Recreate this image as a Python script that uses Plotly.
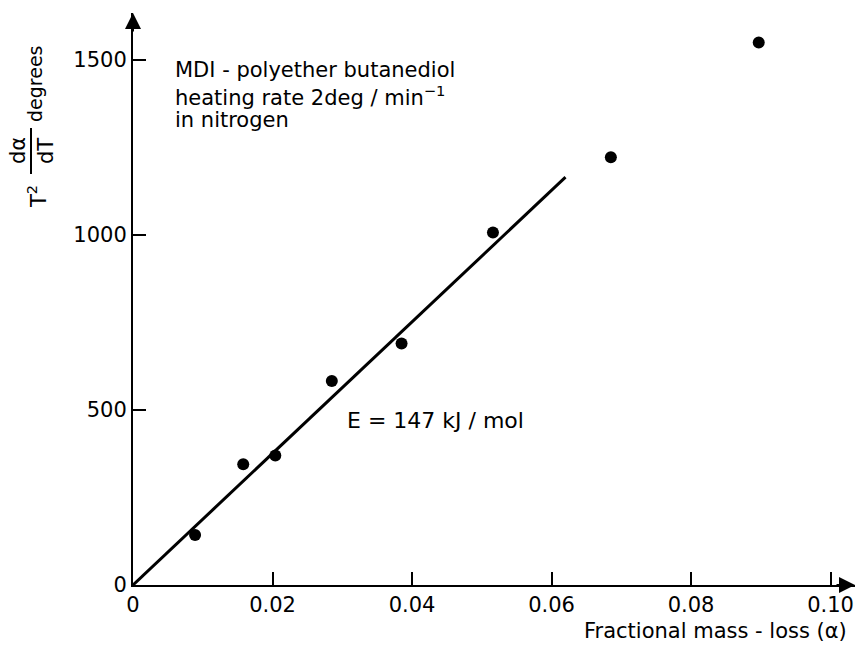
import plotly.graph_objects as go

# Data
alpha = [0.0089, 0.0158, 0.0204, 0.0285, 0.0385, 0.0516, 0.0685, 0.0897]
t2_dadt = [143, 345, 370, 583, 690, 1007, 1222, 1550]
fit_x = [0.0, 0.062]
fit_y = [0, 1165]
x_ticks = [0, 0.02, 0.04, 0.06, 0.08, 0.10]
x_tick_text = ["0", "0.02", "0.04", "0.06", "0.08", "0.10"]
y_ticks = [0, 500, 1000, 1500]
y_tick_text = ["0", "500", "1000", "1500"]

W, H = 865, 649
L, R, T, B = 133, 855, 13, 585  # plot area in pixels
FONT = "DejaVu Sans"

def xp(px):
    return (px - L) / (R - L)

def yp(py):
    return (B - py) / (B - T)

fig = go.Figure()
fig.add_trace(go.Scatter(x=fit_x, y=fit_y, mode="lines",
                         line=dict(color="black", width=3), showlegend=False,
                         hoverinfo="skip"))
fig.add_trace(go.Scatter(x=alpha, y=t2_dadt, mode="markers",
                         marker=dict(color="black", size=12), showlegend=False))

fig.update_layout(
    width=W, height=H,
    margin=dict(l=L, r=W - R, t=T, b=H - B, pad=0),
    paper_bgcolor="white", plot_bgcolor="white",
    font=dict(family=FONT, color="black", size=21),
    xaxis=dict(range=[0, 0.1035], tickvals=x_ticks, ticktext=x_tick_text,
               showgrid=False, zeroline=False, showline=True, linecolor="black",
               linewidth=2, ticks="inside", ticklen=13, tickwidth=2,
               tickcolor="black", tickfont=dict(size=21, family=FONT)),
    yaxis=dict(range=[0, 1634], tickvals=y_ticks, ticktext=y_tick_text,
               showgrid=False, zeroline=False, showline=True, linecolor="black",
               linewidth=2, ticks="inside", ticklen=13, tickwidth=2,
               tickcolor="black", tickfont=dict(size=21, family=FONT)),
)

anns = []
# axis arrows
anns.append(dict(xref="paper", yref="paper", x=1.0, y=0.0, ax=-20, ay=0,
                 axref="pixel", ayref="pixel", showarrow=True, arrowhead=2,
                 arrowsize=1.6, arrowwidth=2, arrowcolor="black", text=""))
anns.append(dict(xref="paper", yref="paper", x=0.0, y=1.0, ax=0, ay=20,
                 showarrow=True, arrowhead=2,
                 arrowsize=1.6, arrowwidth=2, arrowcolor="black", text=""))
# x-axis title
anns.append(dict(xref="paper", yref="paper", x=xp(715), y=yp(631),
                 text="Fractional mass - loss (α)", showarrow=False,
                 font=dict(size=21, family=FONT), xanchor="center", yanchor="middle"))
# y-axis title pieces (rotated)
anns.append(dict(xref="paper", yref="paper", x=xp(35), y=yp(84), text="degrees",
                 textangle=-90, showarrow=False, font=dict(size=19, family=FONT),
                 xanchor="center", yanchor="middle"))
anns.append(dict(xref="paper", yref="paper", x=xp(18), y=yp(151), text="dα",
                 textangle=-90, showarrow=False, font=dict(size=21, family=FONT),
                 xanchor="center", yanchor="middle"))
anns.append(dict(xref="paper", yref="paper", x=xp(46), y=yp(151), text="dT",
                 textangle=-90, showarrow=False, font=dict(size=21, family=FONT),
                 xanchor="center", yanchor="middle"))
anns.append(dict(xref="paper", yref="paper", x=xp(37), y=yp(197), text="T<sup>2</sup>",
                 textangle=-90, showarrow=False, font=dict(size=21, family=FONT),
                 xanchor="center", yanchor="middle"))
# text block
for txt, cy in [("MDI - polyether butanediol", 70),
                ("heating rate 2deg / min<sup>−1</sup>", 96),
                ("in nitrogen", 120)]:
    anns.append(dict(xref="paper", yref="paper", x=xp(173), y=yp(cy), text=txt,
                     showarrow=False, font=dict(size=21, family=FONT),
                     xanchor="left", yanchor="middle"))
anns.append(dict(xref="paper", yref="paper", x=xp(345), y=yp(420),
                 text="E = 147 kJ / mol", showarrow=False,
                 font=dict(size=22, family=FONT), xanchor="left", yanchor="middle"))
fig.update_layout(annotations=anns)

fig.add_shape(type="line", xref="paper", yref="paper",
              x0=xp(31), x1=xp(31), y0=yp(128), y1=yp(174),
              line=dict(color="black", width=2))

fig.write_html("out.html")
